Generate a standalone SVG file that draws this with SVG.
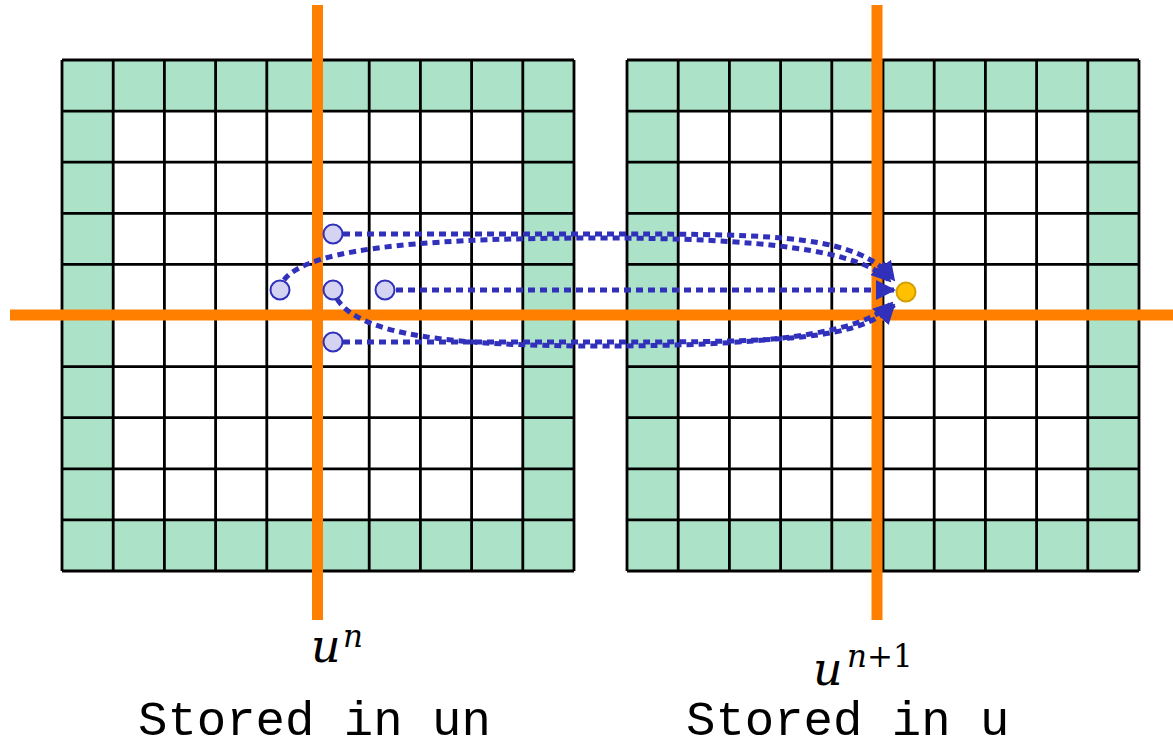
<svg xmlns="http://www.w3.org/2000/svg" width="1173" height="748" viewBox="0 0 1173 748">
<style>
.ghost{fill:#abe2c8}
.grid{stroke:#000;stroke-width:2.8;fill:none}
.axis{stroke:#ff8000;stroke-width:11;fill:none}
.flow{stroke:#3030bb;stroke-width:5;stroke-dasharray:7 5;fill:none}
.pt{fill:#d4d4f2;stroke:#3030bb;stroke-width:2}
.math{font-family:"DejaVu Serif",serif;font-style:italic;fill:#000}
.up{font-style:normal}
.mono{font-family:"Liberation Mono",monospace;font-size:49px;fill:#000}
</style>
<defs>
<marker id="ah" viewBox="0 0 10 10" refX="9" refY="5" markerWidth="4" markerHeight="4" orient="auto" markerUnits="strokeWidth">
<path d="M0,0 L10,5 L0,10 z" fill="#3030bb"/>
</marker>
</defs>
<g id="grid-un">
<rect class="ghost" x="62" y="60" width="512" height="511"/>
<rect x="113.2" y="111.1" width="409.6" height="408.8" fill="#fff"/>
<path class="grid" d="M62,60H574M62,111.1H574M62,162.2H574M62,213.3H574M62,264.4H574M62,315.5H574M62,366.6H574M62,417.7H574M62,468.8H574M62,519.9H574M62,571H574M62,60V571M113.2,60V571M164.4,60V571M215.6,60V571M266.8,60V571M318,60V571M369.2,60V571M420.4,60V571M471.6,60V571M522.8,60V571M574,60V571"/>
</g>
<g id="grid-u">
<rect class="ghost" x="627" y="60" width="512" height="511"/>
<rect x="678.2" y="111.1" width="409.6" height="408.8" fill="#fff"/>
<path class="grid" d="M627,60H1139M627,111.1H1139M627,162.2H1139M627,213.3H1139M627,264.4H1139M627,315.5H1139M627,366.6H1139M627,417.7H1139M627,468.8H1139M627,519.9H1139M627,571H1139M627,60V571M678.2,60V571M729.4,60V571M780.6,60V571M831.8,60V571M883,60V571M934.2,60V571M985.4,60V571M1036.6,60V571M1087.8,60V571M1139,60V571"/>
</g>
<g id="axes">
<path class="axis" d="M317.5,5V620"/>
<path class="axis" d="M877,5V620"/>
<path class="axis" d="M10,315H1173"/>
</g>
<g id="connectors">
<path class="flow" marker-end="url(#ah)" d="M343,234 H620 C780,234 860,236 894,280"/>
<path class="flow" marker-end="url(#ah)" d="M284,280 C310,245 450,238 600,238 C760,238 860,250 890,281"/>
<path class="flow" marker-end="url(#ah)" d="M396,290 H894"/>
<path class="flow" marker-end="url(#ah)" d="M337,299 C360,335 450,346 600,346 C760,346 860,335 892,303"/>
<path class="flow" marker-end="url(#ah)" d="M343,342 H620 C780,342 860,340 894,305"/>
</g>
<g id="points">
<circle class="pt" cx="280" cy="290" r="9.5"/>
<circle class="pt" cx="333" cy="234" r="9.5"/>
<circle class="pt" cx="333" cy="290" r="9.5"/>
<circle class="pt" cx="385" cy="290" r="9.5"/>
<circle class="pt" cx="333" cy="342" r="9.5"/>
<circle cx="906" cy="292" r="9.5" fill="#ffc000" stroke="#d4a000" stroke-width="2"/>
</g>
<g id="labels">
<text class="math" x="311" y="662" font-size="46">u<tspan font-size="31" x="343" y="647">n</tspan></text>
<text class="math" x="813" y="685" font-size="46">u<tspan font-size="31" x="847" y="667">n<tspan class="up">+1</tspan></tspan></text>
<text class="mono" x="138" y="735">Stored in un</text>
<text class="mono" x="686" y="735">Stored in u</text>
</g>
</svg>
